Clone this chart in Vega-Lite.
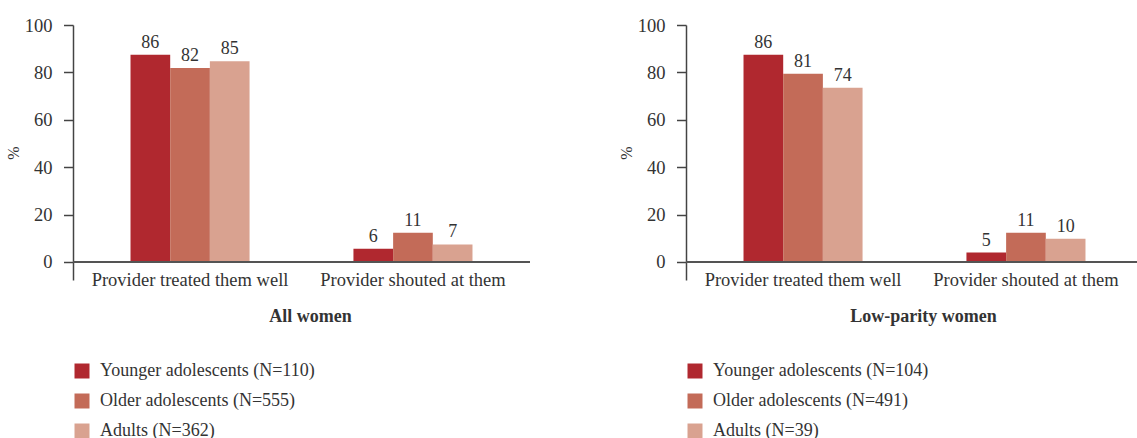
{
  "$schema": "https://vega.github.io/schema/vega-lite/v6.json",
  "padding": {"left": 5, "top": 16, "right": 0, "bottom": 0},
  "autosize": {"type": "pad"},
  "background": "white",
  "datasets": {
    "all": [
      {"category": "Provider treated them well", "group": "Younger", "legend": "Younger adolescents (N=110)", "pct": 87.4, "label": "86"},
      {"category": "Provider treated them well", "group": "Older", "legend": "Older adolescents (N=555)", "pct": 81.9, "label": "82"},
      {"category": "Provider treated them well", "group": "Adults", "legend": "Adults (N=362)", "pct": 84.7, "label": "85"},
      {"category": "Provider shouted at them", "group": "Younger", "legend": "Younger adolescents (N=110)", "pct": 5.6, "label": "6"},
      {"category": "Provider shouted at them", "group": "Older", "legend": "Older adolescents (N=555)", "pct": 12.3, "label": "11"},
      {"category": "Provider shouted at them", "group": "Adults", "legend": "Adults (N=362)", "pct": 7.4, "label": "7"}
    ],
    "low": [
      {"category": "Provider treated them well", "group": "Younger", "legend": "Younger adolescents (N=104)", "pct": 87.4, "label": "86"},
      {"category": "Provider treated them well", "group": "Older", "legend": "Older adolescents (N=491)", "pct": 79.4, "label": "81"},
      {"category": "Provider treated them well", "group": "Adults", "legend": "Adults (N=39)", "pct": 73.5, "label": "74"},
      {"category": "Provider shouted at them", "group": "Younger", "legend": "Younger adolescents (N=104)", "pct": 4.0, "label": "5"},
      {"category": "Provider shouted at them", "group": "Older", "legend": "Older adolescents (N=491)", "pct": 12.3, "label": "11"},
      {"category": "Provider shouted at them", "group": "Adults", "legend": "Adults (N=39)", "pct": 9.8, "label": "10"}
    ]
  },
  "config": {
    "font": "Liberation Serif",
    "view": {"stroke": null},
    "axis": {"labelFont": "Liberation Serif", "titleFont": "Liberation Serif", "labelColor": "#333", "titleColor": "#333", "domainColor": "#444", "tickColor": "#444", "grid": false, "domainWidth": 1.5, "tickWidth": 1.5},
    "legend": {"labelFont": "Liberation Serif", "labelColor": "#333", "labelLimit": 0}
  },
  "spacing": 87,
  "resolve": {"scale": {"color": "independent"}, "legend": {"color": "independent"}},
  "hconcat": [
    {
      "width": 457,
      "height": 255,
      "data": {"name": "all"},
      "layer": [
        {
          "mark": {"type": "bar"},
          "encoding": {
            "x": {"field": "category", "type": "nominal", "sort": ["Provider treated them well", "Provider shouted at them"], "scale": {"paddingInner": 0.466, "paddingOuter": 0.258},
              "axis": {"title": "All women", "domain": false, "ticks": false, "tickSize": 0, "labelAngle": 0, "labelFontSize": 18.5, "labelPadding": 5, "labelBaseline": "alphabetic", "labelLimit": 0, "titleFontSize": 18, "titleFontWeight": "bold", "titleBaseline": "alphabetic", "titleY": 41, "titleX": 237}},
            "xOffset": {"field": "group", "type": "nominal", "sort": ["Younger", "Older", "Adults"], "scale": {"paddingInner": 0, "paddingOuter": 0}},
            "y": {"field": "pct", "type": "quantitative", "scale": {"domain": [-7.6, 100], "nice": false, "zero": false},
              "axis": {"values": [0, 20, 40, 60, 80, 100], "title": "%", "tickSize": 9.5, "labelPadding": 11.5, "labelFontSize": 18.5, "titleFontSize": 16, "titleFontWeight": "normal", "titlePadding": 3}},
            "y2": {"datum": 0},
            "color": {"field": "legend", "type": "nominal",
              "scale": {"domain": ["Younger adolescents (N=110)", "Older adolescents (N=555)", "Adults (N=362)"], "range": ["#B0282F", "#C36B58", "#D9A290"]},
              "legend": {"title": null, "orient": "none", "legendX": 0, "legendY": 337, "direction": "vertical", "symbolType": "square", "symbolSize": 225, "labelFontSize": 18, "labelLimit": 0, "rowPadding": 12, "labelOffset": 9, "symbolStrokeWidth": 0, "padding": 0}}
          }
        },
        {
          "mark": {"type": "rule", "color": "#555", "strokeWidth": 1.5},
          "encoding": {"y": {"datum": 0}}
        },
        {
          "mark": {"type": "text", "dy": -7, "baseline": "alphabetic", "fontSize": 18, "color": "#333"},
          "encoding": {
            "x": {"field": "category", "type": "nominal", "sort": ["Provider treated them well", "Provider shouted at them"]},
            "xOffset": {"field": "group", "type": "nominal", "sort": ["Younger", "Older", "Adults"]},
            "y": {"field": "pct", "type": "quantitative"},
            "text": {"field": "label"}
          }
        }
      ]
    },
    {
      "width": 457,
      "height": 255,
      "data": {"name": "low"},
      "layer": [
        {
          "mark": {"type": "bar"},
          "encoding": {
            "x": {"field": "category", "type": "nominal", "sort": ["Provider treated them well", "Provider shouted at them"], "scale": {"paddingInner": 0.466, "paddingOuter": 0.258},
              "axis": {"title": "Low-parity women", "domain": false, "ticks": false, "tickSize": 0, "labelAngle": 0, "labelFontSize": 18.5, "labelPadding": 5, "labelBaseline": "alphabetic", "labelLimit": 0, "titleFontSize": 18, "titleFontWeight": "bold", "titleBaseline": "alphabetic", "titleY": 41, "titleX": 237}},
            "xOffset": {"field": "group", "type": "nominal", "sort": ["Younger", "Older", "Adults"], "scale": {"paddingInner": 0, "paddingOuter": 0}},
            "y": {"field": "pct", "type": "quantitative", "scale": {"domain": [-7.6, 100], "nice": false, "zero": false},
              "axis": {"values": [0, 20, 40, 60, 80, 100], "title": "%", "tickSize": 9.5, "labelPadding": 11.5, "labelFontSize": 18.5, "titleFontSize": 16, "titleFontWeight": "normal", "titlePadding": 3}},
            "y2": {"datum": 0},
            "color": {"field": "legend", "type": "nominal",
              "scale": {"domain": ["Younger adolescents (N=104)", "Older adolescents (N=491)", "Adults (N=39)"], "range": ["#B0282F", "#C36B58", "#D9A290"]},
              "legend": {"title": null, "orient": "none", "legendX": 0, "legendY": 337, "direction": "vertical", "symbolType": "square", "symbolSize": 225, "labelFontSize": 18, "labelLimit": 0, "rowPadding": 12, "labelOffset": 9, "symbolStrokeWidth": 0, "padding": 0}}
          }
        },
        {
          "mark": {"type": "rule", "color": "#555", "strokeWidth": 1.5},
          "encoding": {"y": {"datum": 0}}
        },
        {
          "mark": {"type": "text", "dy": -7, "baseline": "alphabetic", "fontSize": 18, "color": "#333"},
          "encoding": {
            "x": {"field": "category", "type": "nominal", "sort": ["Provider treated them well", "Provider shouted at them"]},
            "xOffset": {"field": "group", "type": "nominal", "sort": ["Younger", "Older", "Adults"]},
            "y": {"field": "pct", "type": "quantitative"},
            "text": {"field": "label"}
          }
        }
      ]
    }
  ]
}
